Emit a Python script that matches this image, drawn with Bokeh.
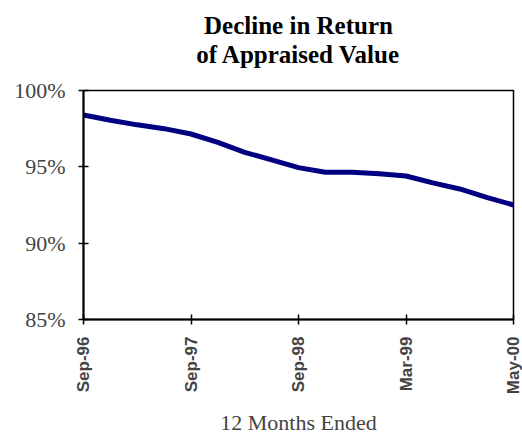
import math
from bokeh.plotting import figure
from bokeh.models import FixedTicker, Title, Range1d
from bokeh.embed import file_html
from bokeh.resources import INLINE

# data
period_index = list(range(17))
return_pct = [98.4, 98.05, 97.75, 97.5, 97.15, 96.6, 95.95, 95.45, 94.95,
              94.65, 94.65, 94.55, 94.4, 93.95, 93.55, 93.0, 92.5]
tick_positions = [0, 4, 8, 12, 16]
tick_labels = ["Sep-96", "Sep-97", "Sep-98", "Mar-99", "May-00"]
y_ticks = [85, 90, 95, 100]
y_labels = ["85%", "90%", "95%", "100%"]
title_lines = ["Decline in Return", "of Appraised Value"]

p = figure(width=522, height=438, output_backend="svg", toolbar_location=None,
           x_range=Range1d(0, 16), y_range=Range1d(85, 100),
           min_border_left=83, min_border_right=9, min_border_top=90,
           min_border_bottom=115)

# spacer between frame and title block
p.add_layout(Title(text=" ", text_font_size="1px", standoff=19.5), "above")
# title lines (nearest to the frame added first)
for line in reversed(title_lines):
    p.add_layout(Title(text=line, align="center",
                       text_font="Liberation Serif", text_font_size="25px",
                       text_font_style="bold", text_color="black",
                       standoff=0), "above")

p.line(period_index, return_pct, line_color="#000080", line_width=5)

p.xgrid.visible = False
p.ygrid.visible = False
p.outline_line_color = "black"
p.outline_line_width = 1.5
p.outline_line_alpha = 1

xa = p.xaxis[0]
xa.ticker = FixedTicker(ticks=tick_positions)
xa.major_label_overrides = {t: l for t, l in zip(tick_positions, tick_labels)}
xa.major_label_orientation = math.pi / 2
xa.major_label_text_font = "Liberation Sans"
xa.major_label_text_font_style = "bold"
xa.major_label_text_font_size = "17px"
xa.major_label_standoff = 12
xa.minor_tick_line_color = None
xa.major_tick_in = 5
xa.major_tick_out = 5
xa.axis_line_width = 2
xa.major_tick_line_width = 1.5
xa.axis_label = "12 Months Ended"
xa.axis_label_text_font = "Liberation Serif"
xa.axis_label_text_font_size = "22px"
xa.axis_label_text_font_style = "normal"
xa.axis_label_standoff = 13

ya = p.yaxis[0]
ya.ticker = FixedTicker(ticks=y_ticks)
ya.major_label_overrides = {t: l for t, l in zip(y_ticks, y_labels)}
ya.major_label_text_font = "Liberation Serif"
ya.major_label_text_font_size = "22px"
ya.major_label_standoff = 13
ya.minor_tick_line_color = None
ya.major_tick_in = 5
ya.major_tick_out = 5
ya.axis_line_width = 2
ya.major_tick_line_width = 1.5

p.background_fill_color = "white"
p.border_fill_color = "white"

open("out.html", "w").write(file_html(p, INLINE))
